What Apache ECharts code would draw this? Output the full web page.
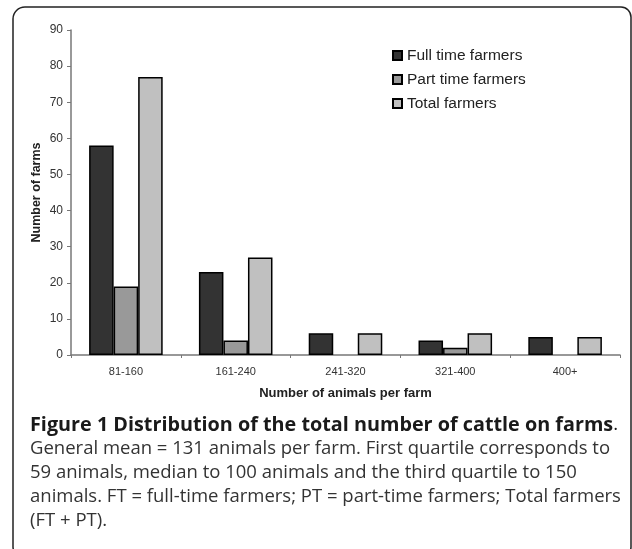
<!DOCTYPE html>
<html><head><meta charset="utf-8">
<script src="https://cdn.jsdelivr.net/npm/echarts@6/dist/echarts.min.js"></script>
<style>html,body{margin:0;padding:0;background:#fff}#c{width:632px;height:549px}</style>
</head><body><div id="c"></div>
<script>
const categories = ['81-160', '161-240', '241-320', '321-400', '400+'];
const fullTime = [58, 23, 6, 4, 5];
const partTime = [19, 4, 0, 2, 0];
const totalFarmers = [77, 27, 6, 6, 5];
const seriesNames = ['Full time farmers', 'Part time farmers', 'Total farmers'];
const seriesColors = ['#333333', '#999999', '#c0c0c0'];
const yAxisTitle = 'Number of farms';
const xAxisTitle = 'Number of animals per farm';
const captionTitle = 'Figure 1 Distribution of the total number of cattle on farms';
const captionLines = [
  'General mean = 131 animals per farm. First quartile corresponds to',
  '59 animals, median to 100 animals and the third quartile to 150',
  'animals. FT = full-time farmers; PT = part-time farmers; Total farmers',
  '(FT + PT).'
];

const chart = echarts.init(document.getElementById('c'), null, {renderer: 'canvas'});
const seriesData = [fullTime, partTime, totalFarmers];
const capFont = '"Open Sans", sans-serif';
const graphics = [
  {type: 'rect', shape: {x: 13, y: 7, width: 618, height: 548, r: [12, 10, 8, 8]},
   style: {fill: 'none', stroke: '#222', lineWidth: 1.5}, silent: true},
  {type: 'text', x: 30, y: 425,
   style: {text: '{b|' + captionTitle + '}{n|.}', verticalAlign: 'middle', rich: {
     b: {fontFamily: capFont, fontSize: 19.8, fontWeight: 'bold', fill: '#1a1a1a'},
     n: {fontFamily: capFont, fontSize: 18.5, fill: '#1a1a1a'}}}}
];
captionLines.forEach((t, i) => {
  graphics.push({type: 'text', x: 30, y: 449 + i * 24,
    style: {text: t, fontFamily: capFont, fontSize: 18.5, fill: '#333', verticalAlign: 'middle'}});
});

chart.setOption({
  animation: false,
  textStyle: {fontFamily: '"Liberation Sans", Arial, sans-serif'},
  grid: {left: 71, right: 12, top: 30, bottom: 194, containLabel: false},
  legend: {
    orient: 'vertical', left: 392, top: 47.5, padding: 0,
    itemWidth: 9, itemHeight: 9, itemGap: 8,
    icon: 'rect', data: seriesNames,
    textStyle: {fontSize: 15.5, color: '#222', fontFamily: '"Liberation Sans", Arial, sans-serif'}
  },
  xAxis: {
    type: 'category', data: categories,
    name: xAxisTitle, nameLocation: 'middle', nameGap: 32,
    nameTextStyle: {fontSize: 13, fontWeight: 'bold', color: '#222'},
    axisLine: {lineStyle: {color: '#777', width: 1.5}},
    axisTick: {show: true, length: 3, lineStyle: {color: '#777'}},
    axisLabel: {fontSize: 11, color: '#333', margin: 11}
  },
  yAxis: {
    type: 'value', min: 0, max: 90, interval: 10,
    name: yAxisTitle, nameLocation: 'middle', nameGap: 28, nameRotate: 90,
    nameMoveOverlap: false,
    nameTextStyle: {fontSize: 12.5, fontWeight: 'bold', color: '#222'},
    axisLine: {show: true, lineStyle: {color: '#777', width: 1.5}},
    axisTick: {show: true, length: 4, lineStyle: {color: '#777'}},
    axisLabel: {fontSize: 12, color: '#333', margin: 8},
    splitLine: {show: false}
  },
  series: seriesNames.map((n, i) => ({
    name: n, type: 'bar',
    data: seriesData[i].map(v => v === 0 ? {value: v, itemStyle: {borderWidth: 0}} : v),
    barGap: '0%', barCategoryGap: '33%',
    itemStyle: {color: seriesColors[i], borderColor: '#000', borderWidth: 1.5}
  })),
  graphic: graphics
});
</script></body></html>
